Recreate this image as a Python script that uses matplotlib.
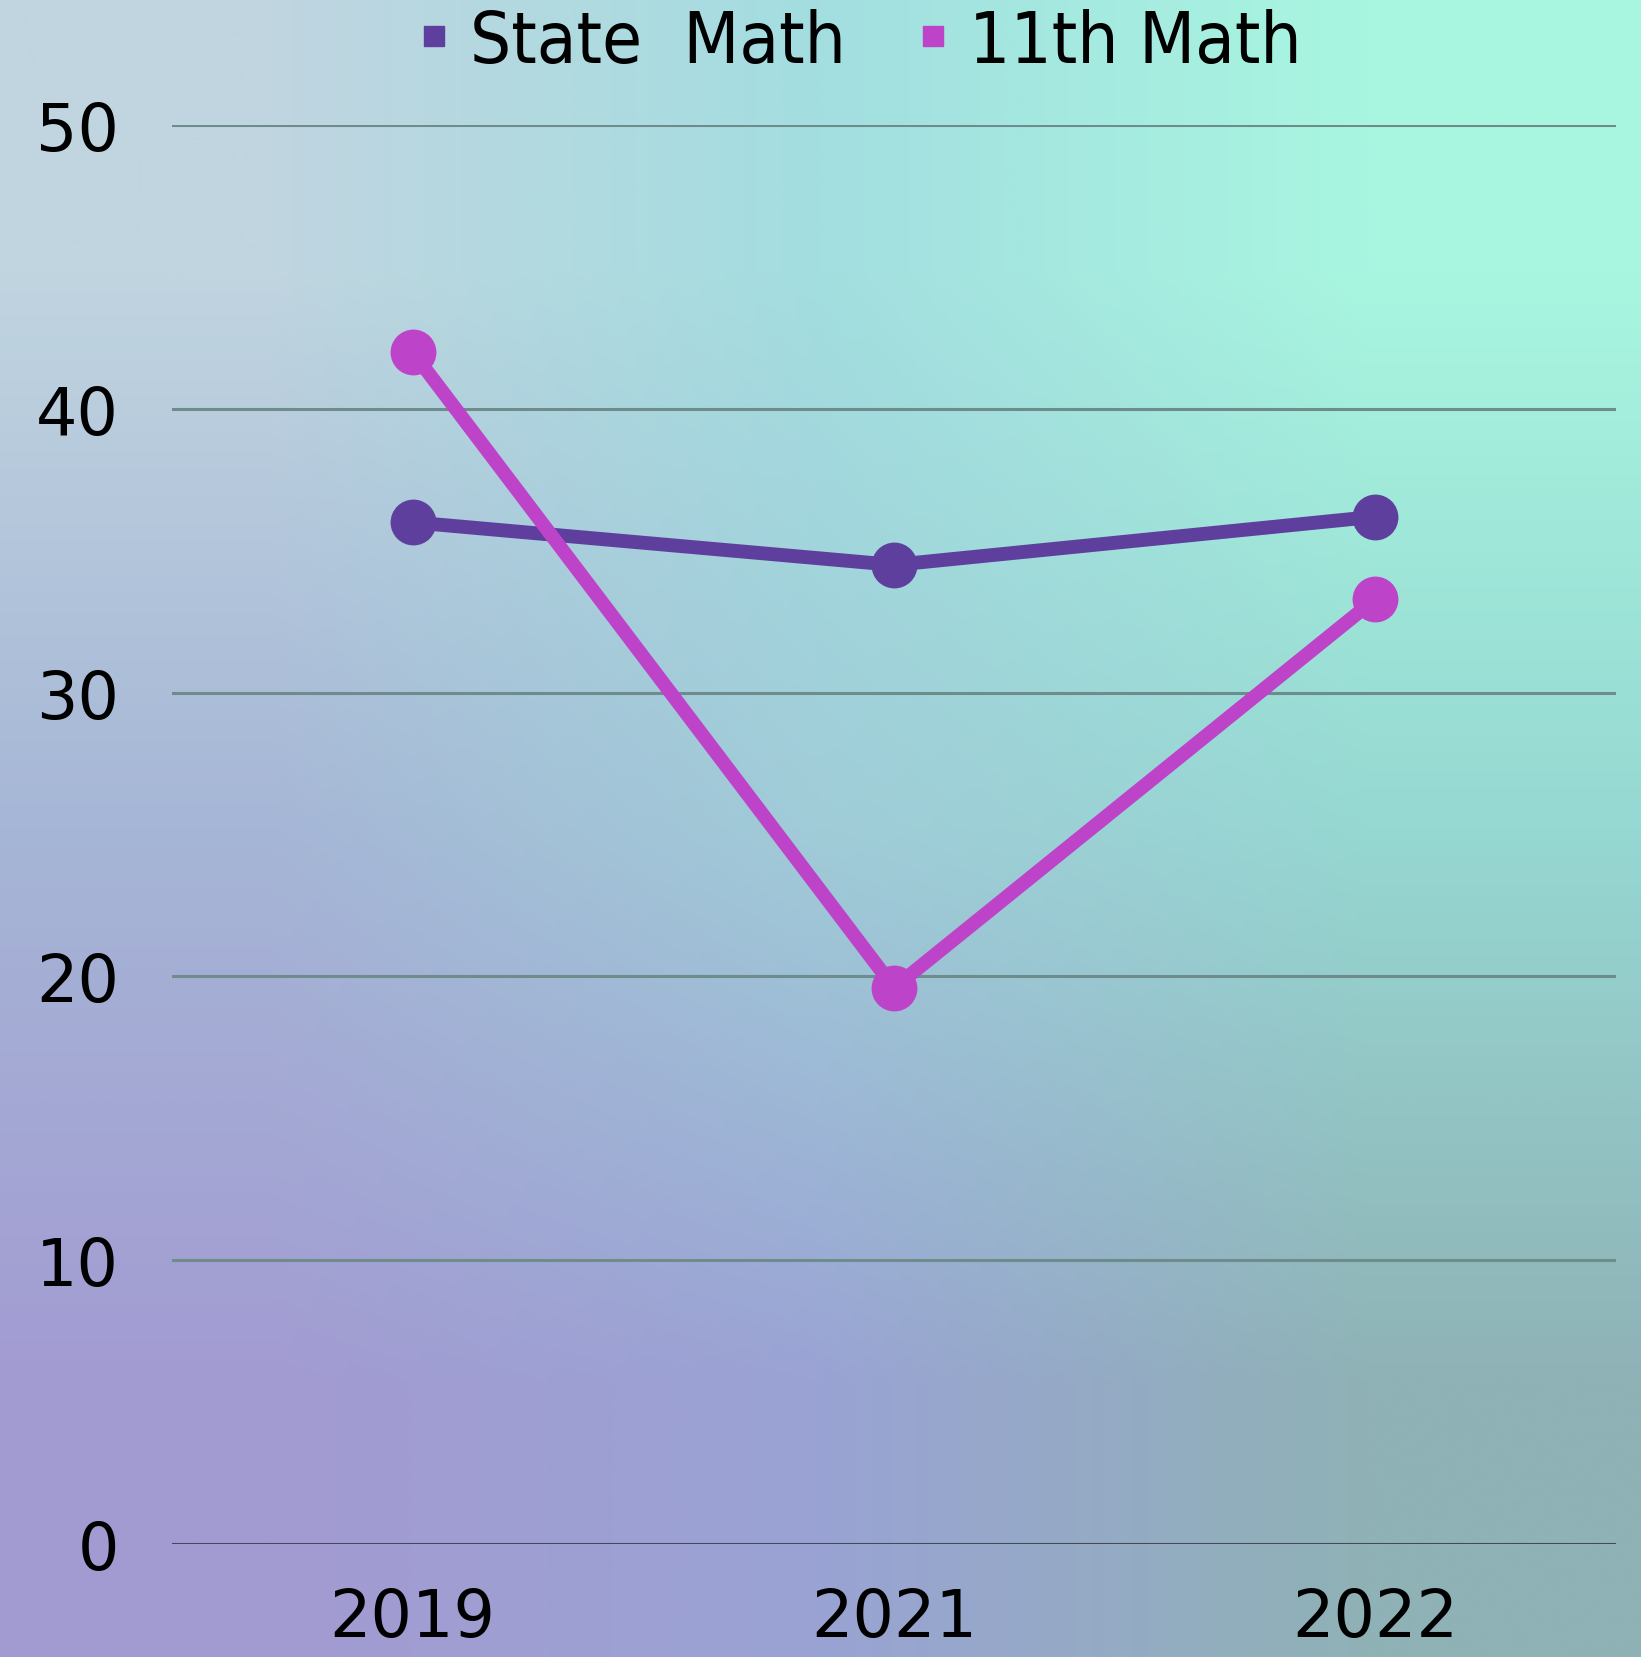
import numpy as np
import matplotlib
matplotlib.use('Agg')
import matplotlib.pyplot as plt
from matplotlib.lines import Line2D
from matplotlib import font_manager

years = ['2019', '2021', '2022']
state_math = [36.0, 34.5, 36.2]
eleventh_math = [42.0, 19.6, 33.3]
yticks = [0, 10, 20, 30, 40, 50]

state_color = '#5e3f9e'
eleventh_color = '#bd44c9'

# background colours, a coarse grid blown up smoothly
bg = np.array([
    [[0xc0, 0xd5, 0xe0], [0xa3, 0xde, 0xe0], [0xa8, 0xf6, 0xe0]],
    [[0xa6, 0xb6, 0xd6], [0xa0, 0xcc, 0xd8], [0x96, 0xd8, 0xd2]],
    [[0xa2, 0x9b, 0xd2], [0x9a, 0xa3, 0xd4], [0x8f, 0xb2, 0xb6]],
]) / 255.0

fig = plt.figure(figsize=(16.41, 16.58), dpi=100)
bgax = fig.add_axes([0, 0, 1, 1], zorder=-1)
bgax.imshow(bg, aspect='auto', interpolation='bilinear', extent=(0, 1, 0, 1))
bgax.set_axis_off()

ax = fig.add_axes([0.1048, 0.0681, 0.88, 0.8559])
ax.patch.set_alpha(0)
x = np.arange(len(years))

for y in yticks:
    ax.axhline(y, color='#444a55' if y == 0 else '#6f8c8c', lw=2.2, zorder=1)

ax.plot(x, state_math, color=state_color, lw=10, marker='o', markersize=32, zorder=3)
ax.plot(x, eleventh_math, color=eleventh_color, lw=10, marker='o', markersize=32, zorder=4)

ax.set_xlim(-0.5, 2.5)
ax.set_ylim(0, 50)
ax.set_xticks(x)
ax.set_xticklabels(years)
ax.set_yticks(yticks)
for s in ax.spines.values():
    s.set_visible(False)
ax.tick_params(axis='both', length=0, labelsize=47, colors='black')
ax.tick_params(axis='x', pad=30)
ax.tick_params(axis='y', pad=38)

# narrow face for the legend if there is one
names = {f.name for f in font_manager.fontManager.ttflist}
if 'Liberation Sans Narrow' in names:
    leg_prop = font_manager.FontProperties(family='Liberation Sans Narrow', size=57)
else:
    leg_prop = font_manager.FontProperties(family='DejaVu Sans', stretch='condensed', size=52)

handles = [Line2D([], [], ls='none', marker='s', markersize=14, color=state_color),
           Line2D([], [], ls='none', marker='s', markersize=14, color=eleventh_color)]
fig.legend(handles, ['State  Math', '11th Math'], loc='center',
           bbox_to_anchor=(857 / 1641, 1 - 43 / 1658), ncol=2, frameon=False,
           prop=leg_prop, handletextpad=0.2, columnspacing=0.9, handlelength=0.6)

fig.savefig('out.png', dpi=100)
